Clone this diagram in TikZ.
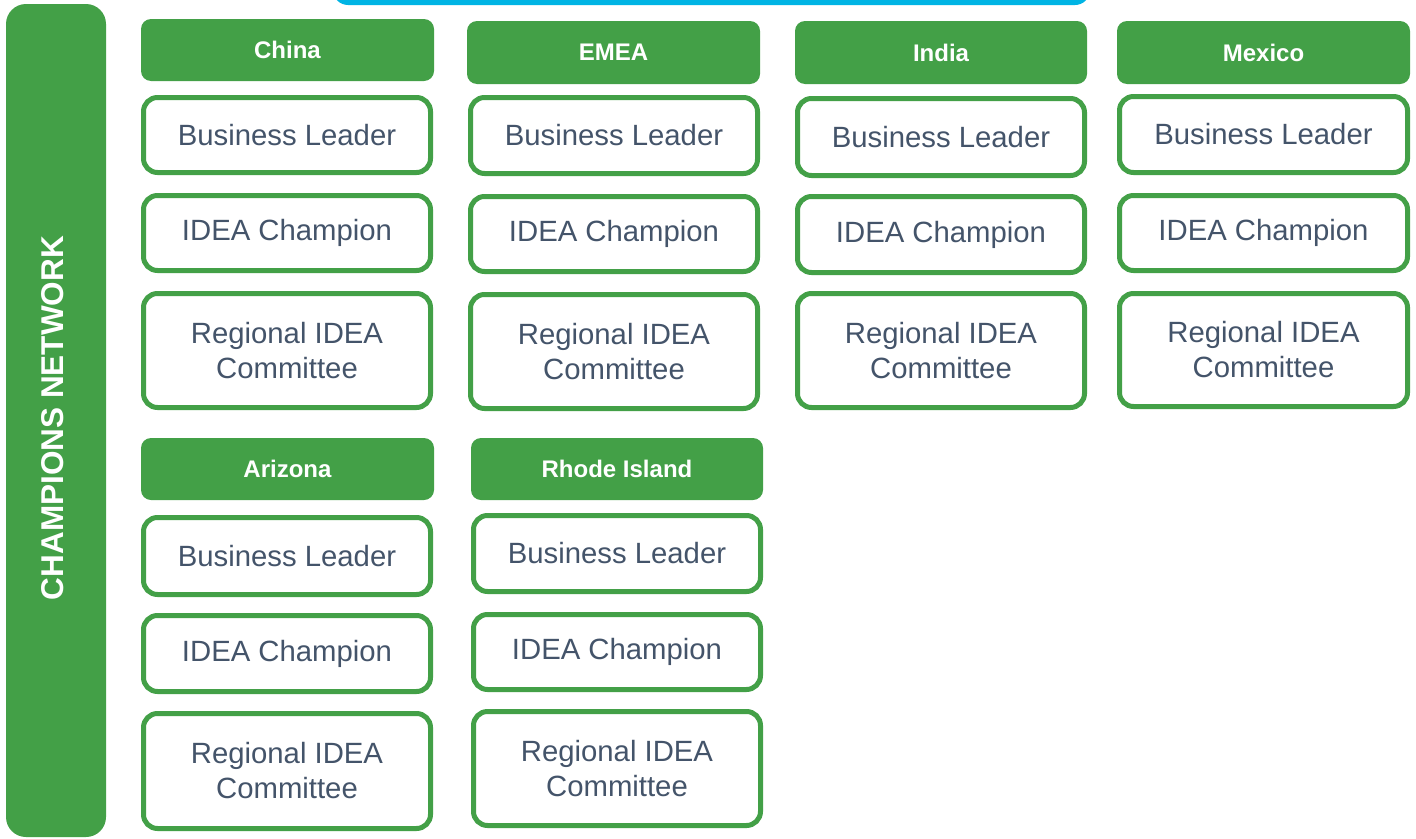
\documentclass[tikz,border=0pt]{standalone}
\usepackage{fontspec}
\setmainfont{Liberation Sans}
\definecolor{leafgreen}{HTML}{43A047}
\definecolor{skyblue}{HTML}{00B4E4}
\definecolor{slatetext}{HTML}{44546A}
\tikzset{
  regionhead/.style={fill=leafgreen, rounded corners=10pt, inner sep=0pt,
    text=white, font=\bfseries\fontsize{24}{28}\selectfont},
  rolebox/.style={draw=leafgreen, line width=5pt, fill=white, rounded corners=14pt,
    inner sep=0pt, align=center, text=slatetext, font=\fontsize{29.3}{35}\selectfont},
}
% #1 style, #2 name, #3 left, #4 top, #5 right, #6 bottom (outer edges), #7 text
\newcommand{\placebox}[7]{%
  \node[#1, minimum width={(#5-#3-5)*1pt}, minimum height={(#6-#4-5)*1pt}]
    (#2) at ({(#3+#5)/2},{(#4+#6)/2}) {#7};}
\newcommand{\placehead}[6]{%
  \node[regionhead, minimum width={(#4-#2)*1pt}, minimum height={(#5-#3)*1pt}]
    (#1) at ({(#2+#4)/2},{(#3+#5)/2}) {#6};}
\begin{document}
\begin{tikzpicture}[x=1pt,y=-1pt]
\useasboundingbox (0,0) rectangle (1416,838);
\clip (0,0) rectangle (1416,838);
\fill[white] (0,0) rectangle (1416,838);

% banner above the grid (only its lower edge shows)
\fill[skyblue, rounded corners=15pt] (333,-40) rectangle (1090,5);

% side bar
\node[fill=leafgreen, rounded corners=20pt, inner sep=0pt,
      minimum width=100pt, minimum height=833pt] (bar) at (56,420.5) {};
\node[rotate=90, text=white, font=\bfseries\fontsize{31.5}{36}\selectfont]
      (bartitle) at (53,418) {CHAMPIONS NETWORK};

% China
\placehead{chinaH}{141}{19}{434}{81}{China}
\placebox{rolebox}{chinaBL}{141}{95}{433}{175}{Business Leader}
\placebox{rolebox}{chinaIC}{141}{193}{433}{273}{IDEA Champion}
\placebox{rolebox}{chinaRC}{141}{291}{433}{410}{Regional IDEA\\Committee}

% EMEA
\placehead{emeaH}{467}{21}{760}{84}{EMEA}
\placebox{rolebox}{emeaBL}{468}{95}{760}{176}{Business Leader}
\placebox{rolebox}{emeaIC}{468}{194}{760}{274}{IDEA Champion}
\placebox{rolebox}{emeaRC}{468}{292}{760}{411}{Regional IDEA\\Committee}

% India
\placehead{indiaH}{795}{21}{1087}{84}{India}
\placebox{rolebox}{indiaBL}{795}{96}{1087}{178}{Business Leader}
\placebox{rolebox}{indiaIC}{795}{194}{1087}{275}{IDEA Champion}
\placebox{rolebox}{indiaRC}{795}{291}{1087}{410}{Regional IDEA\\Committee}

% Mexico
\placehead{mexicoH}{1117}{21}{1410}{84}{Mexico}
\placebox{rolebox}{mexicoBL}{1117}{94}{1410}{175}{Business Leader}
\placebox{rolebox}{mexicoIC}{1117}{193}{1410}{273}{IDEA Champion}
\placebox{rolebox}{mexicoRC}{1117}{291}{1410}{409}{Regional IDEA\\Committee}

% Arizona
\placehead{arizonaH}{141}{438}{434}{500}{Arizona}
\placebox{rolebox}{arizonaBL}{141}{515}{433}{597}{Business Leader}
\placebox{rolebox}{arizonaIC}{141}{613}{433}{694}{IDEA Champion}
\placebox{rolebox}{arizonaRC}{141}{711}{433}{831}{Regional IDEA\\Committee}

% Rhode Island
\placehead{rhodeH}{471}{438}{763}{500}{Rhode Island}
\placebox{rolebox}{rhodeBL}{471}{513}{763}{594}{Business Leader}
\placebox{rolebox}{rhodeIC}{471}{612}{763}{692}{IDEA Champion}
\placebox{rolebox}{rhodeRC}{471}{709}{763}{828}{Regional IDEA\\Committee}
\end{tikzpicture}
\end{document}
